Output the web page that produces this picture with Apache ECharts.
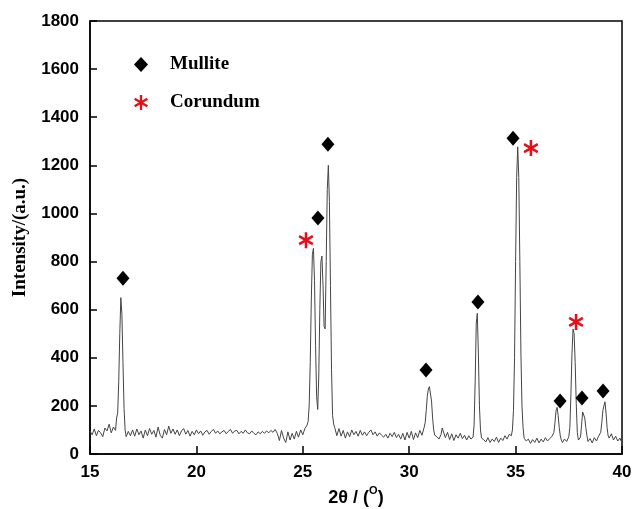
<!DOCTYPE html>
<html>
<head>
<meta charset="utf-8">
<script src="https://cdn.jsdelivr.net/npm/echarts@6/dist/echarts.min.js"></script>
<style>
  html, body { margin: 0; padding: 0; background: #fff; }
  #chart { width: 633px; height: 509px; }
</style>
</head>
<body>
<div id="chart"></div>
<script>
// XRD pattern
var twoTheta = [
  15.0, 15.1, 15.2, 15.3, 15.4, 15.5, 15.6, 15.7, 15.8, 15.9, 16.0, 16.1, 16.2, 16.25, 16.3, 16.35, 16.4, 16.45, 16.5, 16.55, 16.6, 16.65, 16.7, 16.8, 16.9,
  17.0, 17.1, 17.2, 17.3, 17.4, 17.5, 17.6, 17.7, 17.8, 17.9, 18.0, 18.1, 18.2, 18.3, 18.4, 18.5, 18.6, 18.7, 18.8, 18.9,
  19.0, 19.1, 19.2, 19.3, 19.4, 19.5, 19.6, 19.7, 19.8, 19.9, 20.0, 20.1, 20.2, 20.3, 20.4, 20.5, 20.6, 20.7, 20.8, 20.9,
  21.0, 21.1, 21.2, 21.3, 21.4, 21.5, 21.6, 21.7, 21.8, 21.9, 22.0, 22.1, 22.2, 22.3, 22.4, 22.5, 22.6, 22.7, 22.8, 22.9,
  23.0, 23.1, 23.2, 23.3, 23.4, 23.5, 23.6, 23.7, 23.8, 23.9, 24.0, 24.1, 24.2, 24.3, 24.4, 24.5, 24.6, 24.7, 24.8, 24.9,
  25.0, 25.1, 25.2, 25.25, 25.3, 25.35, 25.4, 25.45, 25.5, 25.55, 25.6, 25.65, 25.7, 25.75, 25.8, 25.85, 25.9, 25.95,
  26.0, 26.05, 26.1, 26.15, 26.2, 26.25, 26.3, 26.35, 26.4, 26.45, 26.5, 26.6, 26.7, 26.8, 26.9,
  27.0, 27.1, 27.2, 27.3, 27.4, 27.5, 27.6, 27.7, 27.8, 27.9, 28.0, 28.1, 28.2, 28.3, 28.4, 28.5, 28.6, 28.7, 28.8, 28.9,
  29.0, 29.1, 29.2, 29.3, 29.4, 29.5, 29.6, 29.7, 29.8, 29.9, 30.0, 30.1, 30.2, 30.3, 30.4, 30.5, 30.6, 30.7, 30.75, 30.8, 30.85, 30.9, 30.95,
  31.0, 31.05, 31.1, 31.15, 31.2, 31.3, 31.4, 31.5, 31.55, 31.6, 31.7, 31.8, 31.9, 32.0, 32.1, 32.2, 32.3, 32.4, 32.5, 32.6, 32.7, 32.8, 32.9,
  33.0, 33.05, 33.1, 33.15, 33.2, 33.25, 33.3, 33.35, 33.4, 33.5, 33.6, 33.7, 33.8, 33.9, 34.0, 34.1, 34.2, 34.3, 34.4, 34.5, 34.6, 34.7, 34.8, 34.85, 34.9, 34.95,
  35.0, 35.05, 35.1, 35.15, 35.2, 35.25, 35.3, 35.35, 35.4, 35.5, 35.6, 35.7, 35.8, 35.9, 36.0, 36.1, 36.2, 36.3, 36.4, 36.5, 36.6, 36.7, 36.8, 36.85, 36.9, 36.95,
  37.0, 37.05, 37.1, 37.15, 37.2, 37.3, 37.4, 37.5, 37.55, 37.6, 37.65, 37.7, 37.75, 37.8, 37.85, 37.9, 37.95,
  38.0, 38.05, 38.1, 38.15, 38.2, 38.25, 38.3, 38.35, 38.4, 38.5, 38.6, 38.7, 38.8, 38.9,
  39.0, 39.05, 39.1, 39.15, 39.2, 39.25, 39.3, 39.35, 39.4, 39.5, 39.6, 39.7, 39.8, 39.9, 40.0
];
var intensity = [
  95, 80, 104, 76, 98, 88, 72, 108, 96, 124, 88, 112, 98, 150, 170, 300, 500, 650, 580, 380, 190, 100, 72, 94, 76,
  100, 74, 104, 80, 96, 66, 100, 76, 106, 82, 98, 70, 112, 78, 66, 102, 80, 116, 86, 104,
  82, 100, 76, 96, 106, 82, 98, 74, 94, 80, 100, 84, 96, 78, 92, 98, 82, 94, 102, 86,
  96, 84, 92, 98, 84, 94, 102, 86, 96, 98, 84, 94, 86, 100, 88, 84, 96, 86, 80, 92,
  84, 94, 86, 96, 88, 98, 90, 102, 86, 56, 98, 66, 48, 92, 58, 86, 62, 94, 70, 100,
  80, 106, 120, 135, 200, 380, 640, 830, 855, 720, 450, 240, 185, 320, 600, 800, 823, 700,
  530, 520, 800, 1100, 1200, 1050, 700, 350, 160, 125, 110, 76, 106, 74, 98,
  66, 92, 72, 100, 80, 94, 74, 98, 78, 92, 76, 90, 100, 80, 92, 74, 88, 78, 70, 82,
  66, 86, 72, 90, 68, 82, 62, 86, 58, 90, 66, 94, 60, 88, 68, 98, 78, 110, 130, 180, 240, 270, 280,
  275, 220, 150, 100, 78, 72, 62, 82, 108, 100, 68, 90, 60, 84, 56, 80, 66, 86, 64, 78, 58, 76, 62,
  70, 120, 300, 540, 585, 420, 200, 100, 66, 60, 50, 68, 48, 62, 52, 70, 48, 66, 56, 76, 62, 82, 76, 100, 180, 400,
  800, 1150, 1277, 1150, 800, 420, 200, 110, 66, 54, 62, 44, 60, 48, 66, 46, 62, 50, 68, 54, 64, 72, 90, 130, 180, 194,
  160, 110, 75, 58, 48, 62, 52, 72, 110, 250, 420, 520, 500, 380, 210, 90, 58,
  52, 70, 120, 175, 180, 150, 110, 78, 52, 64, 46, 68, 54, 74,
  90, 130, 180, 200, 217, 170, 110, 75, 66, 84, 58, 74, 54, 66, 46
];

// peak markers
var mulliteX = [16.55, 25.71, 26.18, 30.79, 33.23, 34.88, 37.09, 38.12, 39.11];
var mulliteY = [731, 981, 1288, 349, 632, 1313, 220, 233, 262];
var corundumX = [25.15, 35.72, 37.84];
var corundumY = [889, 1272, 549];

var pattern = twoTheta.map(function (t, i) { return [t, intensity[i]]; });
var mullite = mulliteX.map(function (t, i) { return [t, mulliteY[i]]; });
var corundum = corundumX.map(function (t, i) { return [t, corundumY[i]]; });

// six-spoke asterisk
var asterisk = 'path://M-0.16,-1L0.16,-1L0.16,1L-0.16,1Z' +
  'M0.786,-0.639L0.946,-0.361L-0.786,0.639L-0.946,0.361Z' +
  'M-0.946,-0.361L-0.786,-0.639L0.946,0.361L0.786,0.639Z';

var chart = echarts.init(document.getElementById('chart'));

var tickFont = { fontFamily: 'Liberation Sans', fontWeight: 'bold', fontSize: 17, color: '#000' };

chart.setOption({
  animation: false,
  grid: {
    left: 90, right: 11, top: 21, bottom: 55,
    containLabel: false,
    outerBoundsMode: 'none',
    show: true, borderColor: '#000', borderWidth: 1.5
  },
  legend: {
    orient: 'vertical',
    left: 129,
    top: 50,
    itemGap: 19,
    itemWidth: 14,
    itemHeight: 15,
    data: ['Mullite', 'Corundum'],
    textStyle: { fontFamily: 'Liberation Serif', fontWeight: 'bold', fontSize: 19, color: '#000', padding: [0, 0, 0, 17] }
  },
  xAxis: {
    type: 'value',
    min: 15,
    max: 40,
    interval: 5,
    name: '{a|2θ / (}{s|O}{a|)}',
    nameLocation: 'middle',
    nameGap: 29,
    nameTextStyle: {
      rich: {
        a: { fontFamily: 'Liberation Sans', fontWeight: 'bold', fontSize: 18, color: '#000', lineHeight: 24 },
        s: { fontFamily: 'Liberation Sans', fontWeight: 'bold', fontSize: 11, color: '#000', verticalAlign: 'top', lineHeight: 24, padding: [0, 0, 12, 0] }
      }
    },
    splitLine: { show: false },
    axisLine: { lineStyle: { color: '#000', width: 1.5 } },
    axisTick: { inside: true, length: 8, lineStyle: { color: '#000', width: 1.5 } },
    axisLabel: Object.assign({ margin: 10 }, tickFont)
  },
  yAxis: {
    type: 'value',
    min: 0,
    max: 1800,
    interval: 200,
    name: 'Intensity/(a.u.)',
    nameLocation: 'middle',
    nameGap: 60,
    nameTextStyle: { fontFamily: 'Liberation Serif', fontWeight: 'bold', fontSize: 19, color: '#000' },
    splitLine: { show: false },
    axisLine: { show: true, lineStyle: { color: '#000', width: 1.5 } },
    axisTick: { show: true, inside: true, length: 7, lineStyle: { color: '#000', width: 1.5 } },
    axisLabel: Object.assign({ margin: 11, formatter: function (v) { return String(v); } }, tickFont)
  },
  series: [
    {
      name: 'pattern',
      type: 'line',
      data: pattern,
      showSymbol: false,
      lineStyle: { color: '#444', width: 1 },
      z: 2
    },
    {
      name: 'Mullite',
      type: 'scatter',
      data: mullite,
      symbol: 'diamond',
      symbolSize: [13, 15],
      itemStyle: { color: '#000', opacity: 1 },
      z: 3
    },
    {
      name: 'Corundum',
      type: 'scatter',
      data: corundum,
      symbol: asterisk,
      symbolSize: [15, 16],
      itemStyle: { color: '#e3101a', opacity: 1 },
      z: 3
    }
  ]
});
</script>
</body>
</html>
